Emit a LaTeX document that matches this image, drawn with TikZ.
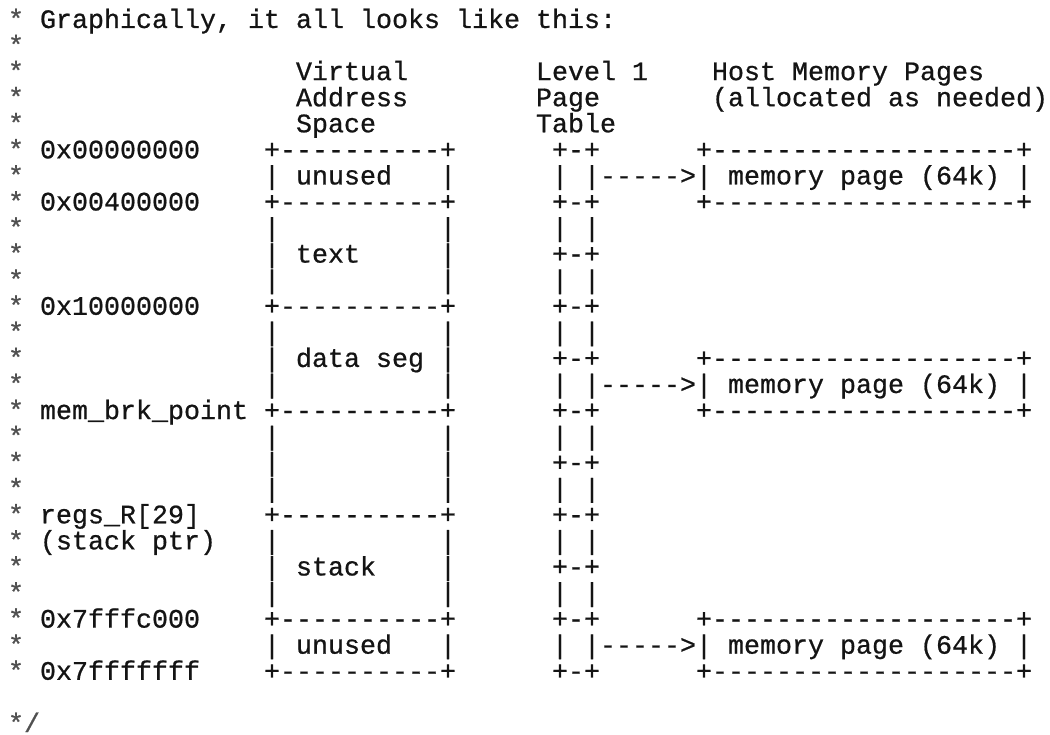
\documentclass[tikz,border=0pt]{standalone}
\usepackage{fontspec}
\setmonofont{Liberation Mono}[FakeBold=0.7]
\definecolor{ink}{HTML}{141414}
\definecolor{starink}{HTML}{505050}
\tikzset{
  ascii/.style={anchor=base west, inner sep=0pt, outer sep=0pt,
    font=\ttfamily\fontsize{26.67pt}{26.67pt}\selectfont, text=ink},
  starcell/.style={ascii, text=starink}
}
% one character cell is 16 wide, one text row is 26.07 high
\newcommand\putcell[4]{\node[ascii] (#1) at ({8+16*(#2)},{-28-26.07*(#3)}) {#4};}
\begin{document}
\begin{tikzpicture}[x=1pt,y=1pt]
\useasboundingbox (0,0) rectangle (1050,-735);

% comment leaders
\foreach \r in {0,...,25} {
  \node[starcell] (star\r) at (8,{-28-26.07*\r}) {*};
}
\node[starcell] (close) at (8,{-28-26.07*27}) {*/};

% heading
\putcell{title}{2}{0}{Graphically, it all looks like this:}

% column headers
\putcell{vas1}{18}{2}{Virtual}
\putcell{vas2}{18}{3}{Address}
\putcell{vas3}{18}{4}{Space}
\putcell{lpt1}{33}{2}{Level 1}
\putcell{lpt2}{33}{3}{Page}
\putcell{lpt3}{33}{4}{Table}
\putcell{hmp1}{44}{2}{Host Memory Pages}
\putcell{hmp2}{44}{3}{(allocated as needed)}

% address labels
\putcell{addr0}{2}{5}{0x00000000}
\putcell{addr1}{2}{7}{0x00400000}
\putcell{addr2}{2}{11}{0x10000000}
\putcell{brk}{2}{15}{mem\_brk\_point}
\putcell{sp1}{2}{19}{regs\_R[29]}
\putcell{sp2}{2}{20}{(stack ptr)}
\putcell{addr3}{2}{23}{0x7fffc000}
\putcell{addr4}{2}{25}{0x7fffffff}

% virtual address space column
\foreach \r in {5,7,11,15,19,23,25} {
  \putcell{vedge\r}{16}{\r}{+----------+}
}
\foreach \r in {6,8,9,10,12,13,14,16,17,18,20,21,22,24} {
  \putcell{vleft\r}{16}{\r}{|}
  \putcell{vright\r}{27}{\r}{|}
}
\putcell{seg0}{18}{6}{unused}
\putcell{seg1}{18}{9}{text}
\putcell{seg2}{18}{13}{data seg}
\putcell{seg3}{18}{21}{stack}
\putcell{seg4}{18}{24}{unused}

% level 1 page table
\foreach \r in {5,7,...,25} {
  \putcell{pte\r}{34}{\r}{+-+}
}
\foreach \r in {6,8,...,24} {
  \putcell{ptl\r}{34}{\r}{|}
  \putcell{ptr\r}{36}{\r}{|}
}

% pointers and host memory pages
\foreach \r in {6,14,24} {
  \putcell{ptr\r arrow}{37}{\r}{----->}
  \putcell{mtop\r}{43}{\r-1}{+-------------------+}
  \putcell{mleft\r}{43}{\r}{|}
  \putcell{mtext\r}{45}{\r}{memory page (64k)}
  \putcell{mright\r}{63}{\r}{|}
  \putcell{mbot\r}{43}{\r+1}{+-------------------+}
}
\end{tikzpicture}
\end{document}
